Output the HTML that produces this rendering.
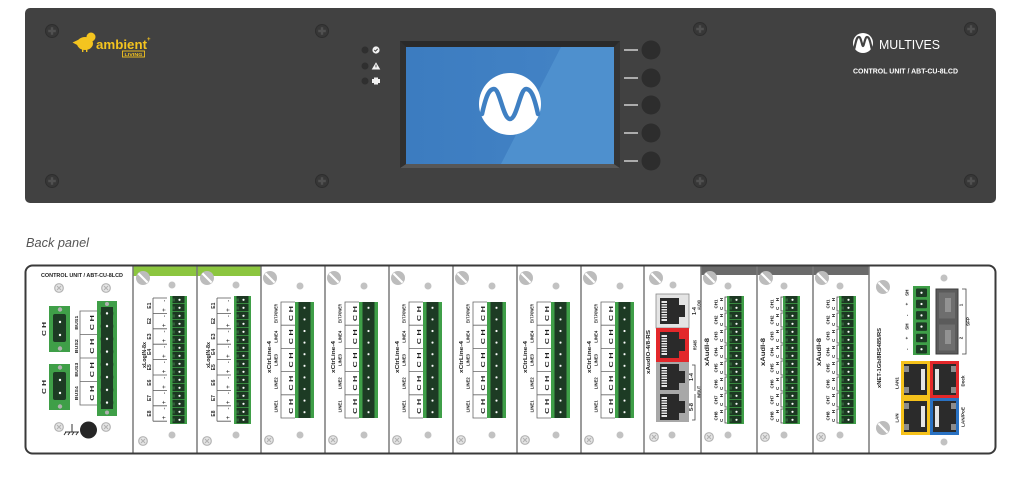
<!DOCTYPE html>
<html><head><meta charset="utf-8"><title>ABT-CU-8LCD</title>
<style>
html,body{margin:0;padding:0;background:#fff;width:1024px;height:482px;overflow:hidden}
svg{display:block}
text{font-family:"Liberation Sans",Arial,sans-serif}
.t{font-weight:bold;fill:#1e1e1e}
</style></head><body>
<svg width="1024" height="482" viewBox="0 0 1024 482" xmlns="http://www.w3.org/2000/svg">
<defs>
<g id="fs"><circle r="6.5" fill="#373737" stroke="#2e2e2e" stroke-width="1"/><path d="M-3.8 0H3.8M0 -3.8V3.8" stroke="#505050" stroke-width="2.4"/></g>
<g id="bs"><circle r="7" fill="#bcbcbc"/><path d="M-4.6 -4.6L4.6 4.6" stroke="#fff" stroke-width="2.2"/></g>
<g id="xc"><circle r="4.3" fill="#e6e6e6" stroke="#b3b3b3" stroke-width="1.2"/><path d="M-2 -2L2 2M2 -2L-2 2" stroke="#b3b3b3" stroke-width="1.2"/></g>
<pattern id="p8" x="2.5" y="0" width="12" height="8" patternUnits="userSpaceOnUse"><rect width="12" height="8" fill="#1c3822"/><rect y="7.2" width="12" height="0.8" fill="#3f9f48"/><rect x="0" y="2.5" width="2.5" height="3" fill="#2e5e36"/><circle cx="7" cy="3.8" r="1.1" fill="#fff"/></pattern>
<g id="tb16"><rect width="17" height="128" fill="#3f9f48"/><rect x="2.5" y="0" width="12" height="128" fill="url(#p8)"/></g>
<pattern id="p12" x="2" y="0" width="15" height="11.6" patternUnits="userSpaceOnUse"><rect x="1.5" width="12" height="11.6" fill="#1d3b24"/><circle cx="7.5" cy="5.8" r="5.8" fill="#1d3b24"/><circle cx="7.5" cy="5.8" r="1.1" fill="#fff"/></pattern>
<g id="tb10"><rect width="19" height="116" fill="#3f9f48"/><rect x="2" y="0" width="15" height="116" fill="url(#p12)"/></g>
<pattern id="p13" x="100" y="307" width="14" height="12.75" patternUnits="userSpaceOnUse"><rect x="1" width="12" height="12.75" fill="#1d3b24"/><circle cx="7" cy="6.4" r="6.3" fill="#1d3b24"/><circle cx="7" cy="6.4" r="1.2" fill="#fff"/></pattern>
<g id="brL" fill="none" stroke="#555" stroke-width="0.8"><path d="M20 298V421.2M20 298H34M20 313.4H34M20 328.8H34M20 344.2H34M20 359.6H34M20 375H34M20 390.4H34M20 405.8H34M20 421.2H34"/></g>
<g id="brC" fill="none" stroke="#666" stroke-width="0.8"><path d="M34 302H20V418H34M20 325.2H34M20 348.4H34M20 371.6H34M20 394.8H34"/></g>
<g id="brA" fill="none" stroke="#444" stroke-width="0.8"><path d="M26 297H24V311H26M26 313H24V327H26M26 329H24V343H26M26 345H24V359H26M26 361H24V375H26M26 377H24V391H26M26 393H24V407H26M26 409H24V423H26"/></g>
<g id="rj"><rect width="19" height="26" fill="#2a2a2a"/><rect x="19" y="7" width="6" height="12" fill="#2a2a2a"/><rect x="1.5" y="3" width="5.5" height="20" fill="#e6e6e6"/><path d="M1.5 5.5h5.5M1.5 8h5.5M1.5 10.5h5.5M1.5 13h5.5M1.5 15.5h5.5M1.5 18h5.5M1.5 20.5h5.5" stroke="#2a2a2a" stroke-width="0.9"/></g>
<linearGradient id="scr" x1="0" y1="0" x2="1" y2="0"><stop offset="0" stop-color="#3c7cc0"/><stop offset="1" stop-color="#4484c6"/></linearGradient>
</defs>

<!-- ============ FRONT PANEL ============ -->
<rect x="25" y="8" width="971" height="195" rx="5" fill="#414141"/>
<use href="#fs" x="52" y="31"/><use href="#fs" x="322" y="31"/><use href="#fs" x="52" y="181"/><use href="#fs" x="322" y="181"/>
<use href="#fs" x="700" y="29"/><use href="#fs" x="971" y="29"/><use href="#fs" x="700" y="181"/><use href="#fs" x="971" y="181"/>

<!-- ambient logo -->
<g fill="#f4c41f">
<ellipse cx="85" cy="43.5" rx="8" ry="6.5"/>
<circle cx="91" cy="37" r="4.5"/>
<path d="M72.5 42.5L80 39L80 46.5Z"/>
<rect x="82" y="48" width="1.4" height="4"/><rect x="86" y="48" width="1.4" height="4"/>
</g>
<text x="96" y="49" font-size="13" font-weight="bold" fill="#f4c41f" textLength="51" lengthAdjust="spacingAndGlyphs">ambient</text>
<text x="147" y="41" font-size="6" font-weight="bold" fill="#f4c41f">+</text>
<rect x="122.5" y="51" width="22" height="6" fill="none" stroke="#f4c41f" stroke-width="0.9"/>
<text x="133.5" y="56" font-size="4.2" font-weight="bold" fill="#f4c41f" text-anchor="middle" textLength="18" lengthAdjust="spacingAndGlyphs">LIVING</text>

<!-- LEDs -->
<circle cx="365" cy="50" r="3.5" fill="#2f2f2f"/><circle cx="365" cy="66" r="3.5" fill="#2f2f2f"/><circle cx="365" cy="81" r="3.5" fill="#2f2f2f"/>
<circle cx="376" cy="50" r="3.6" fill="#f2f2f2"/><path d="M374.3 50l1.2 1.2 2.2-2.4" stroke="#414141" stroke-width="1" fill="none"/>
<path d="M376 62.3L380.3 69.5H371.7Z" fill="#f2f2f2"/><path d="M376 64.6V67.4" stroke="#414141" stroke-width="0.9"/>
<path d="M372 79h2v-1.5h4v1.5h2v4h-2v1.5h-4v-1.5h-2z" fill="#f2f2f2"/>

<!-- screen -->
<rect x="400" y="41" width="220" height="127" fill="#2a2a2a"/>
<polygon points="400,168 620,168 614,164 406,164" fill="#575757"/>
<polygon points="400,41 406,47 406,164 400,168" fill="#303030"/>
<polygon points="620,41 614,47 614,164 620,168" fill="#343434"/>
<rect x="406" y="47" width="208" height="117" fill="url(#scr)"/>
<polygon points="561,47 614,47 614,164 501,164" fill="#4e90ce"/>
<circle cx="510" cy="104" r="31" fill="#fff"/>
<path d="M482 114C486 96 489 89 494 89C500 89 503 119 510 119C517 119 520 89 526 89C531 89 534 96 538 114" fill="none" stroke="#3f80c3" stroke-width="4.5" stroke-linecap="round"/>

<!-- side buttons -->
<path d="M624 50H638M624 78H638M624 105H638M624 133H638M624 161H638" stroke="#d0d0d0" stroke-width="1.5"/>
<circle cx="651" cy="50" r="9.5" fill="#2d2d2d"/><circle cx="651" cy="78" r="9.5" fill="#2d2d2d"/><circle cx="651" cy="105" r="9.5" fill="#2d2d2d"/><circle cx="651" cy="133" r="9.5" fill="#2d2d2d"/><circle cx="651" cy="161" r="9.5" fill="#2d2d2d"/>

<!-- MULTIVES -->
<circle cx="863" cy="43" r="10" fill="#fff"/>
<path d="M854.5 48C856 40 857 37 859 37C861 37 862 46 863 46C864 46 865 37 867 37C869 37 870 40 871.5 48" fill="none" stroke="#414141" stroke-width="2.2" stroke-linecap="round"/>
<text x="879" y="49" font-size="13" fill="#fff" textLength="61" lengthAdjust="spacingAndGlyphs">MULTIVES</text>
<text x="853" y="73.5" font-size="7" font-weight="bold" fill="#fff" textLength="105" lengthAdjust="spacingAndGlyphs">CONTROL UNIT / ABT-CU-8LCD</text>

<!-- ============ BACK PANEL ============ -->
<text x="26" y="247" font-size="13" font-style="italic" fill="#555" textLength="63" lengthAdjust="spacingAndGlyphs">Back panel</text>
<rect x="25.5" y="265.5" width="970" height="188" rx="7" fill="#fff"/>
<rect x="133" y="266" width="128" height="10" fill="#8cc63f"/>
<rect x="701" y="266" width="168" height="9" fill="#6a6a6a"/>

<!-- Control unit module -->
<text class="t" x="82" y="277" font-size="5.5" text-anchor="middle" textLength="82" lengthAdjust="spacingAndGlyphs">CONTROL UNIT / ABT-CU-8LCD</text>
<use href="#xc" x="59" y="288"/><use href="#xc" x="106" y="288"/><use href="#xc" x="59" y="427"/><use href="#xc" x="106" y="427"/>
<rect x="49" y="306" width="21" height="46" fill="#3f9f48"/>
<rect x="53" y="314" width="13" height="28" rx="2" fill="#1d3b24"/>
<circle cx="60" cy="322" r="5.5" fill="#1d3b24"/><circle cx="60" cy="335" r="5.5" fill="#1d3b24"/>
<circle cx="60" cy="322" r="1.2" fill="#fff"/><circle cx="60" cy="335" r="1.2" fill="#fff"/>
<circle cx="60" cy="309.5" r="2.2" fill="#b0b0b0"/><circle cx="60" cy="348.5" r="2.2" fill="#b0b0b0"/>
<rect x="49" y="364" width="21" height="46" fill="#3f9f48"/>
<rect x="53" y="372" width="13" height="28" rx="2" fill="#1d3b24"/>
<circle cx="60" cy="380" r="5.5" fill="#1d3b24"/><circle cx="60" cy="393" r="5.5" fill="#1d3b24"/>
<circle cx="60" cy="380" r="1.2" fill="#fff"/><circle cx="60" cy="393" r="1.2" fill="#fff"/>
<circle cx="60" cy="367.5" r="2.2" fill="#b0b0b0"/><circle cx="60" cy="406.5" r="2.2" fill="#b0b0b0"/>
<text class="t" font-size="5.5" text-anchor="middle" dy="1.8" transform="translate(44,329) rotate(-90)" textLength="14" lengthAdjust="spacingAndGlyphs">C H</text>
<text class="t" font-size="5.5" text-anchor="middle" dy="1.8" transform="translate(44,387) rotate(-90)" textLength="14" lengthAdjust="spacingAndGlyphs">C H</text>
<rect x="97" y="301" width="20" height="115" fill="#3f9f48"/>
<rect x="100" y="307" width="14" height="102" fill="url(#p13)"/>
<circle cx="107" cy="304" r="2" fill="#b0b0b0"/><circle cx="107" cy="412.5" r="2" fill="#b0b0b0"/>
<path d="M97 311H80V405H97M80 334.5H97M80 358H97M80 381.5H97" fill="none" stroke="#666" stroke-width="0.8"/>
<g class="t" font-size="5" text-anchor="middle">
<text dy="1.8" transform="translate(92,322.75) rotate(-90)" textLength="15" lengthAdjust="spacingAndGlyphs">C H</text>
<text dy="1.8" transform="translate(92,346.25) rotate(-90)" textLength="15" lengthAdjust="spacingAndGlyphs">C H</text>
<text dy="1.8" transform="translate(92,369.75) rotate(-90)" textLength="15" lengthAdjust="spacingAndGlyphs">C H</text>
<text dy="1.8" transform="translate(92,393.25) rotate(-90)" textLength="15" lengthAdjust="spacingAndGlyphs">C H</text>
<text dy="1.8" font-size="4.5" transform="translate(76,322.75) rotate(-90)" textLength="14" lengthAdjust="spacingAndGlyphs">BUS1</text>
<text dy="1.8" font-size="4.5" transform="translate(76,346.25) rotate(-90)" textLength="14" lengthAdjust="spacingAndGlyphs">BUS2</text>
<text dy="1.8" font-size="4.5" transform="translate(76,369.75) rotate(-90)" textLength="14" lengthAdjust="spacingAndGlyphs">BUS3</text>
<text dy="1.8" font-size="4.5" transform="translate(76,393.25) rotate(-90)" textLength="14" lengthAdjust="spacingAndGlyphs">BUS4</text>
</g>
<path d="M72 424V432M65 432H79M66 432l-2 3M70 432l-2 3M74 432l-2 3M78 432l-2 3" stroke="#333" stroke-width="1" fill="none"/>
<circle cx="88.5" cy="430" r="8.5" fill="#262626"/>

<!-- xLogIN-8x modules -->
<g>
<use href="#bs" x="143" y="278"/><circle cx="172" cy="285" r="3.5" fill="#c2c2c2"/>
<use href="#xc" x="143" y="441"/><circle cx="172" cy="435" r="3.5" fill="#c2c2c2"/>
<use href="#tb16" x="170" y="296"/><use href="#brL" x="133"/>
<use href="#bs" x="207" y="278"/><circle cx="236" cy="285" r="3.5" fill="#c2c2c2"/>
<use href="#xc" x="207" y="441"/><circle cx="236" cy="435" r="3.5" fill="#c2c2c2"/>
<use href="#tb16" x="234" y="296"/><use href="#brL" x="197"/>
</g>
<g class="t" font-size="5" text-anchor="middle">
<text font-size="5.5" dy="1.8" transform="translate(144,355) rotate(-90)" textLength="26" lengthAdjust="spacingAndGlyphs">xLogIN-8x</text>
<text dy="1.8" transform="translate(149,305.7) rotate(-90)">E1</text>
<text dy="1.8" transform="translate(149,321.1) rotate(-90)">E2</text>
<text dy="1.8" transform="translate(149,336.5) rotate(-90)">E3</text>
<text dy="1.8" transform="translate(149,351.9) rotate(-90)">E4</text>
<text dy="1.8" transform="translate(149,367.3) rotate(-90)">E5</text>
<text dy="1.8" transform="translate(149,382.7) rotate(-90)">E6</text>
<text dy="1.8" transform="translate(149,398.1) rotate(-90)">E7</text>
<text dy="1.8" transform="translate(149,413.5) rotate(-90)">E8</text>
<text font-weight="normal" font-size="6" dy="2" transform="translate(164,305.7) rotate(-90)" textLength="12" lengthAdjust="spacing">+ -</text>
<text font-weight="normal" font-size="6" dy="2" transform="translate(164,321.1) rotate(-90)" textLength="12" lengthAdjust="spacing">+ -</text>
<text font-weight="normal" font-size="6" dy="2" transform="translate(164,336.5) rotate(-90)" textLength="12" lengthAdjust="spacing">+ -</text>
<text font-weight="normal" font-size="6" dy="2" transform="translate(164,351.9) rotate(-90)" textLength="12" lengthAdjust="spacing">+ -</text>
<text font-weight="normal" font-size="6" dy="2" transform="translate(164,367.3) rotate(-90)" textLength="12" lengthAdjust="spacing">+ -</text>
<text font-weight="normal" font-size="6" dy="2" transform="translate(164,382.7) rotate(-90)" textLength="12" lengthAdjust="spacing">+ -</text>
<text font-weight="normal" font-size="6" dy="2" transform="translate(164,398.1) rotate(-90)" textLength="12" lengthAdjust="spacing">+ -</text>
<text font-weight="normal" font-size="6" dy="2" transform="translate(164,413.5) rotate(-90)" textLength="12" lengthAdjust="spacing">+ -</text>
<text font-size="5.5" dy="1.8" transform="translate(208,355) rotate(-90)" textLength="26" lengthAdjust="spacingAndGlyphs">xLogIN-8x</text>
<text dy="1.8" transform="translate(213,305.7) rotate(-90)">E1</text>
<text dy="1.8" transform="translate(213,321.1) rotate(-90)">E2</text>
<text dy="1.8" transform="translate(213,336.5) rotate(-90)">E3</text>
<text dy="1.8" transform="translate(213,351.9) rotate(-90)">E4</text>
<text dy="1.8" transform="translate(213,367.3) rotate(-90)">E5</text>
<text dy="1.8" transform="translate(213,382.7) rotate(-90)">E6</text>
<text dy="1.8" transform="translate(213,398.1) rotate(-90)">E7</text>
<text dy="1.8" transform="translate(213,413.5) rotate(-90)">E8</text>
<text font-weight="normal" font-size="6" dy="2" transform="translate(228,305.7) rotate(-90)" textLength="12" lengthAdjust="spacing">+ -</text>
<text font-weight="normal" font-size="6" dy="2" transform="translate(228,321.1) rotate(-90)" textLength="12" lengthAdjust="spacing">+ -</text>
<text font-weight="normal" font-size="6" dy="2" transform="translate(228,336.5) rotate(-90)" textLength="12" lengthAdjust="spacing">+ -</text>
<text font-weight="normal" font-size="6" dy="2" transform="translate(228,351.9) rotate(-90)" textLength="12" lengthAdjust="spacing">+ -</text>
<text font-weight="normal" font-size="6" dy="2" transform="translate(228,367.3) rotate(-90)" textLength="12" lengthAdjust="spacing">+ -</text>
<text font-weight="normal" font-size="6" dy="2" transform="translate(228,382.7) rotate(-90)" textLength="12" lengthAdjust="spacing">+ -</text>
<text font-weight="normal" font-size="6" dy="2" transform="translate(228,398.1) rotate(-90)" textLength="12" lengthAdjust="spacing">+ -</text>
<text font-weight="normal" font-size="6" dy="2" transform="translate(228,413.5) rotate(-90)" textLength="12" lengthAdjust="spacing">+ -</text>
</g>

<!-- xCtrLine-4 modules -->
<g>
<use href="#bs" x="270" y="278"/><circle cx="300" cy="286" r="3.5" fill="#c2c2c2"/><use href="#xc" x="269" y="440"/><circle cx="300" cy="435" r="3.5" fill="#c2c2c2"/><use href="#tb10" x="295" y="302"/><use href="#brC" x="261"/>
<use href="#bs" x="334" y="278"/><circle cx="364" cy="286" r="3.5" fill="#c2c2c2"/><use href="#xc" x="333" y="440"/><circle cx="364" cy="435" r="3.5" fill="#c2c2c2"/><use href="#tb10" x="359" y="302"/><use href="#brC" x="325"/>
<use href="#bs" x="398" y="278"/><circle cx="428" cy="286" r="3.5" fill="#c2c2c2"/><use href="#xc" x="397" y="440"/><circle cx="428" cy="435" r="3.5" fill="#c2c2c2"/><use href="#tb10" x="423" y="302"/><use href="#brC" x="389"/>
<use href="#bs" x="462" y="278"/><circle cx="492" cy="286" r="3.5" fill="#c2c2c2"/><use href="#xc" x="461" y="440"/><circle cx="492" cy="435" r="3.5" fill="#c2c2c2"/><use href="#tb10" x="487" y="302"/><use href="#brC" x="453"/>
<use href="#bs" x="526" y="278"/><circle cx="556" cy="286" r="3.5" fill="#c2c2c2"/><use href="#xc" x="525" y="440"/><circle cx="556" cy="435" r="3.5" fill="#c2c2c2"/><use href="#tb10" x="551" y="302"/><use href="#brC" x="517"/>
<use href="#bs" x="590" y="278"/><circle cx="620" cy="286" r="3.5" fill="#c2c2c2"/><use href="#xc" x="589" y="440"/><circle cx="620" cy="435" r="3.5" fill="#c2c2c2"/><use href="#tb10" x="615" y="302"/><use href="#brC" x="581"/>
</g>
<g class="t" font-size="4.5" text-anchor="middle">
<text font-size="5.5" dy="1.8" transform="translate(269,357) rotate(-90)" textLength="32" lengthAdjust="spacingAndGlyphs">xCtrLine-4</text>
<text dy="1.6" transform="translate(276,313.6) rotate(-90)" textLength="19" lengthAdjust="spacingAndGlyphs">EXT.POWER</text>
<text dy="1.6" transform="translate(276,336.8) rotate(-90)" textLength="12" lengthAdjust="spacingAndGlyphs">LINE4</text>
<text dy="1.6" transform="translate(276,360) rotate(-90)" textLength="12" lengthAdjust="spacingAndGlyphs">LINE3</text>
<text dy="1.6" transform="translate(276,383.2) rotate(-90)" textLength="12" lengthAdjust="spacingAndGlyphs">LINE2</text>
<text dy="1.6" transform="translate(276,406.4) rotate(-90)" textLength="12" lengthAdjust="spacingAndGlyphs">LINE1</text>
<text font-size="5" dy="1.8" transform="translate(291,313.6) rotate(-90)" textLength="15" lengthAdjust="spacingAndGlyphs">C H</text>
<text font-size="5" dy="1.8" transform="translate(291,336.8) rotate(-90)" textLength="15" lengthAdjust="spacingAndGlyphs">C H</text>
<text font-size="5" dy="1.8" transform="translate(291,360) rotate(-90)" textLength="15" lengthAdjust="spacingAndGlyphs">C H</text>
<text font-size="5" dy="1.8" transform="translate(291,383.2) rotate(-90)" textLength="15" lengthAdjust="spacingAndGlyphs">C H</text>
<text font-size="5" dy="1.8" transform="translate(291,406.4) rotate(-90)" textLength="15" lengthAdjust="spacingAndGlyphs">C H</text>

<text font-size="5.5" dy="1.8" transform="translate(333,357) rotate(-90)" textLength="32" lengthAdjust="spacingAndGlyphs">xCtrLine-4</text>
<text dy="1.6" transform="translate(340,313.6) rotate(-90)" textLength="19" lengthAdjust="spacingAndGlyphs">EXT.POWER</text>
<text dy="1.6" transform="translate(340,336.8) rotate(-90)" textLength="12" lengthAdjust="spacingAndGlyphs">LINE4</text>
<text dy="1.6" transform="translate(340,360) rotate(-90)" textLength="12" lengthAdjust="spacingAndGlyphs">LINE3</text>
<text dy="1.6" transform="translate(340,383.2) rotate(-90)" textLength="12" lengthAdjust="spacingAndGlyphs">LINE2</text>
<text dy="1.6" transform="translate(340,406.4) rotate(-90)" textLength="12" lengthAdjust="spacingAndGlyphs">LINE1</text>
<text font-size="5" dy="1.8" transform="translate(355,313.6) rotate(-90)" textLength="15" lengthAdjust="spacingAndGlyphs">C H</text>
<text font-size="5" dy="1.8" transform="translate(355,336.8) rotate(-90)" textLength="15" lengthAdjust="spacingAndGlyphs">C H</text>
<text font-size="5" dy="1.8" transform="translate(355,360) rotate(-90)" textLength="15" lengthAdjust="spacingAndGlyphs">C H</text>
<text font-size="5" dy="1.8" transform="translate(355,383.2) rotate(-90)" textLength="15" lengthAdjust="spacingAndGlyphs">C H</text>
<text font-size="5" dy="1.8" transform="translate(355,406.4) rotate(-90)" textLength="15" lengthAdjust="spacingAndGlyphs">C H</text>

<text font-size="5.5" dy="1.8" transform="translate(397,357) rotate(-90)" textLength="32" lengthAdjust="spacingAndGlyphs">xCtrLine-4</text>
<text dy="1.6" transform="translate(404,313.6) rotate(-90)" textLength="19" lengthAdjust="spacingAndGlyphs">EXT.POWER</text>
<text dy="1.6" transform="translate(404,336.8) rotate(-90)" textLength="12" lengthAdjust="spacingAndGlyphs">LINE4</text>
<text dy="1.6" transform="translate(404,360) rotate(-90)" textLength="12" lengthAdjust="spacingAndGlyphs">LINE3</text>
<text dy="1.6" transform="translate(404,383.2) rotate(-90)" textLength="12" lengthAdjust="spacingAndGlyphs">LINE2</text>
<text dy="1.6" transform="translate(404,406.4) rotate(-90)" textLength="12" lengthAdjust="spacingAndGlyphs">LINE1</text>
<text font-size="5" dy="1.8" transform="translate(419,313.6) rotate(-90)" textLength="15" lengthAdjust="spacingAndGlyphs">C H</text>
<text font-size="5" dy="1.8" transform="translate(419,336.8) rotate(-90)" textLength="15" lengthAdjust="spacingAndGlyphs">C H</text>
<text font-size="5" dy="1.8" transform="translate(419,360) rotate(-90)" textLength="15" lengthAdjust="spacingAndGlyphs">C H</text>
<text font-size="5" dy="1.8" transform="translate(419,383.2) rotate(-90)" textLength="15" lengthAdjust="spacingAndGlyphs">C H</text>
<text font-size="5" dy="1.8" transform="translate(419,406.4) rotate(-90)" textLength="15" lengthAdjust="spacingAndGlyphs">C H</text>

<text font-size="5.5" dy="1.8" transform="translate(461,357) rotate(-90)" textLength="32" lengthAdjust="spacingAndGlyphs">xCtrLine-4</text>
<text dy="1.6" transform="translate(468,313.6) rotate(-90)" textLength="19" lengthAdjust="spacingAndGlyphs">EXT.POWER</text>
<text dy="1.6" transform="translate(468,336.8) rotate(-90)" textLength="12" lengthAdjust="spacingAndGlyphs">LINE4</text>
<text dy="1.6" transform="translate(468,360) rotate(-90)" textLength="12" lengthAdjust="spacingAndGlyphs">LINE3</text>
<text dy="1.6" transform="translate(468,383.2) rotate(-90)" textLength="12" lengthAdjust="spacingAndGlyphs">LINE2</text>
<text dy="1.6" transform="translate(468,406.4) rotate(-90)" textLength="12" lengthAdjust="spacingAndGlyphs">LINE1</text>
<text font-size="5" dy="1.8" transform="translate(483,313.6) rotate(-90)" textLength="15" lengthAdjust="spacingAndGlyphs">C H</text>
<text font-size="5" dy="1.8" transform="translate(483,336.8) rotate(-90)" textLength="15" lengthAdjust="spacingAndGlyphs">C H</text>
<text font-size="5" dy="1.8" transform="translate(483,360) rotate(-90)" textLength="15" lengthAdjust="spacingAndGlyphs">C H</text>
<text font-size="5" dy="1.8" transform="translate(483,383.2) rotate(-90)" textLength="15" lengthAdjust="spacingAndGlyphs">C H</text>
<text font-size="5" dy="1.8" transform="translate(483,406.4) rotate(-90)" textLength="15" lengthAdjust="spacingAndGlyphs">C H</text>

<text font-size="5.5" dy="1.8" transform="translate(525,357) rotate(-90)" textLength="32" lengthAdjust="spacingAndGlyphs">xCtrLine-4</text>
<text dy="1.6" transform="translate(532,313.6) rotate(-90)" textLength="19" lengthAdjust="spacingAndGlyphs">EXT.POWER</text>
<text dy="1.6" transform="translate(532,336.8) rotate(-90)" textLength="12" lengthAdjust="spacingAndGlyphs">LINE4</text>
<text dy="1.6" transform="translate(532,360) rotate(-90)" textLength="12" lengthAdjust="spacingAndGlyphs">LINE3</text>
<text dy="1.6" transform="translate(532,383.2) rotate(-90)" textLength="12" lengthAdjust="spacingAndGlyphs">LINE2</text>
<text dy="1.6" transform="translate(532,406.4) rotate(-90)" textLength="12" lengthAdjust="spacingAndGlyphs">LINE1</text>
<text font-size="5" dy="1.8" transform="translate(547,313.6) rotate(-90)" textLength="15" lengthAdjust="spacingAndGlyphs">C H</text>
<text font-size="5" dy="1.8" transform="translate(547,336.8) rotate(-90)" textLength="15" lengthAdjust="spacingAndGlyphs">C H</text>
<text font-size="5" dy="1.8" transform="translate(547,360) rotate(-90)" textLength="15" lengthAdjust="spacingAndGlyphs">C H</text>
<text font-size="5" dy="1.8" transform="translate(547,383.2) rotate(-90)" textLength="15" lengthAdjust="spacingAndGlyphs">C H</text>
<text font-size="5" dy="1.8" transform="translate(547,406.4) rotate(-90)" textLength="15" lengthAdjust="spacingAndGlyphs">C H</text>

<text font-size="5.5" dy="1.8" transform="translate(589,357) rotate(-90)" textLength="32" lengthAdjust="spacingAndGlyphs">xCtrLine-4</text>
<text dy="1.6" transform="translate(596,313.6) rotate(-90)" textLength="19" lengthAdjust="spacingAndGlyphs">EXT.POWER</text>
<text dy="1.6" transform="translate(596,336.8) rotate(-90)" textLength="12" lengthAdjust="spacingAndGlyphs">LINE4</text>
<text dy="1.6" transform="translate(596,360) rotate(-90)" textLength="12" lengthAdjust="spacingAndGlyphs">LINE3</text>
<text dy="1.6" transform="translate(596,383.2) rotate(-90)" textLength="12" lengthAdjust="spacingAndGlyphs">LINE2</text>
<text dy="1.6" transform="translate(596,406.4) rotate(-90)" textLength="12" lengthAdjust="spacingAndGlyphs">LINE1</text>
<text font-size="5" dy="1.8" transform="translate(611,313.6) rotate(-90)" textLength="15" lengthAdjust="spacingAndGlyphs">C H</text>
<text font-size="5" dy="1.8" transform="translate(611,336.8) rotate(-90)" textLength="15" lengthAdjust="spacingAndGlyphs">C H</text>
<text font-size="5" dy="1.8" transform="translate(611,360) rotate(-90)" textLength="15" lengthAdjust="spacingAndGlyphs">C H</text>
<text font-size="5" dy="1.8" transform="translate(611,383.2) rotate(-90)" textLength="15" lengthAdjust="spacingAndGlyphs">C H</text>
<text font-size="5" dy="1.8" transform="translate(611,406.4) rotate(-90)" textLength="15" lengthAdjust="spacingAndGlyphs">C H</text>
</g>

<!-- xAudIO-4/8-RS -->
<use href="#bs" x="656" y="278"/><circle cx="673" cy="285" r="3.5" fill="#c2c2c2"/>
<use href="#xc" x="654" y="437"/><circle cx="672" cy="435" r="3.5" fill="#c2c2c2"/>
<rect x="656" y="294" width="33" height="34" fill="#e4e4e4" stroke="#8a8a8a" stroke-width="0.8"/>
<rect x="656" y="328" width="33" height="34" fill="#e3282b"/>
<rect x="656" y="362" width="33" height="60" fill="#a8a8a8"/>
<use href="#rj" x="660" y="298"/><use href="#rj" x="660" y="332"/><use href="#rj" x="660" y="364"/><use href="#rj" x="660" y="394"/>
<path d="M692 365H695V391M695 394V420H692" fill="none" stroke="#444" stroke-width="0.8"/>
<g class="t" font-size="4.5" text-anchor="middle">
<text font-size="5.5" dy="1.8" transform="translate(648,352) rotate(-90)" textLength="44" lengthAdjust="spacingAndGlyphs">xAudIO-4/8-RS</text>
<text font-size="5" dy="1.8" transform="translate(694,311) rotate(-90)" textLength="8" lengthAdjust="spacingAndGlyphs">1-4</text>
<text dy="1.6" transform="translate(699,305) rotate(-90)" textLength="10" lengthAdjust="spacingAndGlyphs">AUDIO</text>
<text dy="1.6" transform="translate(695,345) rotate(-90)" textLength="10" lengthAdjust="spacingAndGlyphs">RS485</text>
<text font-size="5" dy="1.8" transform="translate(691,377) rotate(-90)" textLength="8" lengthAdjust="spacingAndGlyphs">1-4</text>
<text font-size="5" dy="1.8" transform="translate(691,407) rotate(-90)" textLength="8" lengthAdjust="spacingAndGlyphs">5-8</text>
<text dy="1.6" transform="translate(699,392) rotate(-90)" textLength="12" lengthAdjust="spacingAndGlyphs">IN/OUT</text>
</g>

<!-- xAudI-8 modules -->
<g>
<use href="#bs" x="710" y="278"/><circle cx="728" cy="286" r="3.5" fill="#c2c2c2"/><use href="#xc" x="709" y="437"/><circle cx="728" cy="435" r="3.5" fill="#c2c2c2"/><use href="#tb16" x="727" y="296"/><use href="#brA" x="701"/>
<use href="#bs" x="766" y="278"/><circle cx="784" cy="286" r="3.5" fill="#c2c2c2"/><use href="#xc" x="765" y="437"/><circle cx="784" cy="435" r="3.5" fill="#c2c2c2"/><use href="#tb16" x="783" y="296"/><use href="#brA" x="757"/>
<use href="#bs" x="822" y="278"/><circle cx="840" cy="286" r="3.5" fill="#c2c2c2"/><use href="#xc" x="821" y="437"/><circle cx="840" cy="435" r="3.5" fill="#c2c2c2"/><use href="#tb16" x="839" y="296"/><use href="#brA" x="813"/>
</g>
<g class="t" font-size="4.5" text-anchor="middle">
<text font-size="6" dy="2" transform="translate(707,352) rotate(-90)" textLength="28" lengthAdjust="spacingAndGlyphs">xAudI-8</text>
<text dy="1.6" transform="translate(716,304) rotate(-90)">CH1</text><text dy="1.6" transform="translate(716,320) rotate(-90)">CH2</text><text dy="1.6" transform="translate(716,336) rotate(-90)">CH3</text><text dy="1.6" transform="translate(716,352) rotate(-90)">CH4</text><text dy="1.6" transform="translate(716,368) rotate(-90)">CH5</text><text dy="1.6" transform="translate(716,384) rotate(-90)">CH6</text><text dy="1.6" transform="translate(716,400) rotate(-90)">CH7</text><text dy="1.6" transform="translate(716,416) rotate(-90)">CH8</text>
<text dy="1.6" transform="translate(721.5,304) rotate(-90)" textLength="12" lengthAdjust="spacing">C H</text><text dy="1.6" transform="translate(721.5,320) rotate(-90)" textLength="12" lengthAdjust="spacing">C H</text><text dy="1.6" transform="translate(721.5,336) rotate(-90)" textLength="12" lengthAdjust="spacing">C H</text><text dy="1.6" transform="translate(721.5,352) rotate(-90)" textLength="12" lengthAdjust="spacing">C H</text><text dy="1.6" transform="translate(721.5,368) rotate(-90)" textLength="12" lengthAdjust="spacing">C H</text><text dy="1.6" transform="translate(721.5,384) rotate(-90)" textLength="12" lengthAdjust="spacing">C H</text><text dy="1.6" transform="translate(721.5,400) rotate(-90)" textLength="12" lengthAdjust="spacing">C H</text><text dy="1.6" transform="translate(721.5,416) rotate(-90)" textLength="12" lengthAdjust="spacing">C H</text>

<text font-size="6" dy="2" transform="translate(763,352) rotate(-90)" textLength="28" lengthAdjust="spacingAndGlyphs">xAudI-8</text>
<text dy="1.6" transform="translate(772,304) rotate(-90)">CH1</text><text dy="1.6" transform="translate(772,320) rotate(-90)">CH2</text><text dy="1.6" transform="translate(772,336) rotate(-90)">CH3</text><text dy="1.6" transform="translate(772,352) rotate(-90)">CH4</text><text dy="1.6" transform="translate(772,368) rotate(-90)">CH5</text><text dy="1.6" transform="translate(772,384) rotate(-90)">CH6</text><text dy="1.6" transform="translate(772,400) rotate(-90)">CH7</text><text dy="1.6" transform="translate(772,416) rotate(-90)">CH8</text>
<text dy="1.6" transform="translate(777.5,304) rotate(-90)" textLength="12" lengthAdjust="spacing">C H</text><text dy="1.6" transform="translate(777.5,320) rotate(-90)" textLength="12" lengthAdjust="spacing">C H</text><text dy="1.6" transform="translate(777.5,336) rotate(-90)" textLength="12" lengthAdjust="spacing">C H</text><text dy="1.6" transform="translate(777.5,352) rotate(-90)" textLength="12" lengthAdjust="spacing">C H</text><text dy="1.6" transform="translate(777.5,368) rotate(-90)" textLength="12" lengthAdjust="spacing">C H</text><text dy="1.6" transform="translate(777.5,384) rotate(-90)" textLength="12" lengthAdjust="spacing">C H</text><text dy="1.6" transform="translate(777.5,400) rotate(-90)" textLength="12" lengthAdjust="spacing">C H</text><text dy="1.6" transform="translate(777.5,416) rotate(-90)" textLength="12" lengthAdjust="spacing">C H</text>

<text font-size="6" dy="2" transform="translate(819,352) rotate(-90)" textLength="28" lengthAdjust="spacingAndGlyphs">xAudI-8</text>
<text dy="1.6" transform="translate(828,304) rotate(-90)">CH1</text><text dy="1.6" transform="translate(828,320) rotate(-90)">CH2</text><text dy="1.6" transform="translate(828,336) rotate(-90)">CH3</text><text dy="1.6" transform="translate(828,352) rotate(-90)">CH4</text><text dy="1.6" transform="translate(828,368) rotate(-90)">CH5</text><text dy="1.6" transform="translate(828,384) rotate(-90)">CH6</text><text dy="1.6" transform="translate(828,400) rotate(-90)">CH7</text><text dy="1.6" transform="translate(828,416) rotate(-90)">CH8</text>
<text dy="1.6" transform="translate(833.5,304) rotate(-90)" textLength="12" lengthAdjust="spacing">C H</text><text dy="1.6" transform="translate(833.5,320) rotate(-90)" textLength="12" lengthAdjust="spacing">C H</text><text dy="1.6" transform="translate(833.5,336) rotate(-90)" textLength="12" lengthAdjust="spacing">C H</text><text dy="1.6" transform="translate(833.5,352) rotate(-90)" textLength="12" lengthAdjust="spacing">C H</text><text dy="1.6" transform="translate(833.5,368) rotate(-90)" textLength="12" lengthAdjust="spacing">C H</text><text dy="1.6" transform="translate(833.5,384) rotate(-90)" textLength="12" lengthAdjust="spacing">C H</text><text dy="1.6" transform="translate(833.5,400) rotate(-90)" textLength="12" lengthAdjust="spacing">C H</text><text dy="1.6" transform="translate(833.5,416) rotate(-90)" textLength="12" lengthAdjust="spacing">C H</text>
</g>

<!-- xNET module -->
<use href="#bs" x="883" y="287"/><use href="#bs" x="883" y="428"/>
<circle cx="944" cy="278" r="3.5" fill="#c2c2c2"/><circle cx="944" cy="442" r="3.5" fill="#c2c2c2"/>
<rect x="913" y="286" width="17" height="69" fill="#3f9f48"/>
<g fill="#1d3b24"><rect x="916" y="288.5" width="11" height="8.5" rx="1"/><rect x="916" y="299.8" width="11" height="8.5" rx="1"/><rect x="916" y="311.1" width="11" height="8.5" rx="1"/><rect x="916" y="322.4" width="11" height="8.5" rx="1"/><rect x="916" y="333.7" width="11" height="8.5" rx="1"/><rect x="916" y="345" width="11" height="8.5" rx="1"/></g>
<g fill="#fff"><circle cx="921.5" cy="292.75" r="1.1"/><circle cx="921.5" cy="304" r="1.1"/><circle cx="921.5" cy="315.4" r="1.1"/><circle cx="921.5" cy="326.6" r="1.1"/><circle cx="921.5" cy="338" r="1.1"/><circle cx="921.5" cy="349.25" r="1.1"/></g>
<rect x="936" y="289" width="22" height="65" fill="#5b5b5b" stroke="#3d3d3d" stroke-width="1"/>
<rect x="939" y="292.5" width="16" height="26" fill="#6e6e6e"/><rect x="939" y="324.5" width="16" height="26" fill="#6e6e6e"/>
<path d="M946 298v14M948 298v14M950 298v14M946 330v14M948 330v14M950 330v14" stroke="#c8c8c8" stroke-width="0.8"/>
<path d="M962 289H966V354H962" fill="none" stroke="#444" stroke-width="0.8"/>
<rect x="901" y="361" width="29" height="74" fill="#f6c21b"/>
<rect x="930" y="361" width="29" height="37" fill="#e3282b"/>
<rect x="930" y="398" width="29" height="37" fill="#2a72c3"/>
<g fill="#2b2b2b"><rect x="904" y="364" width="23" height="31"/><rect x="904" y="401" width="23" height="31"/><rect x="933" y="364" width="23" height="31"/><rect x="933" y="401" width="23" height="31"/></g>
<g fill="#8c8c8c"><rect x="904" y="366" width="5" height="6"/><rect x="904" y="387" width="5" height="6"/><rect x="904" y="403" width="5" height="6"/><rect x="904" y="424" width="5" height="6"/>
<rect x="951" y="366" width="5" height="6"/><rect x="951" y="387" width="5" height="6"/><rect x="951" y="403" width="5" height="6"/><rect x="951" y="424" width="5" height="6"/></g>
<g fill="#e6e6e6"><rect x="921" y="369" width="4" height="21"/><rect x="921" y="406" width="4" height="21"/><rect x="935" y="369" width="4" height="21"/><rect x="935" y="406" width="4" height="21"/></g>
<g class="t" font-size="4.5" text-anchor="middle">
<text font-size="5.5" dy="1.8" transform="translate(879,358) rotate(-90)" textLength="60" lengthAdjust="spacingAndGlyphs">xNET-1Gb/8RS485/RS</text>
<text dy="1.6" transform="translate(907,292.75) rotate(-90)">SH</text><text dy="1.6" transform="translate(907,304) rotate(-90)">+</text><text dy="1.6" transform="translate(907,315.4) rotate(-90)">-</text><text dy="1.6" transform="translate(907,326.6) rotate(-90)">SH</text><text dy="1.6" transform="translate(907,338) rotate(-90)">+</text><text dy="1.6" transform="translate(907,349.25) rotate(-90)">-</text>
<text dy="1.6" transform="translate(961,305) rotate(-90)">1</text><text dy="1.6" transform="translate(961,338) rotate(-90)">2</text>
<text dy="1.6" transform="translate(968,321.5) rotate(-90)" textLength="9" lengthAdjust="spacingAndGlyphs">SFP</text>
<text dy="1.6" transform="translate(897,383) rotate(-90)" textLength="12" lengthAdjust="spacingAndGlyphs">LAN1</text>
<text dy="1.6" transform="translate(897,418) rotate(-90)" textLength="9" lengthAdjust="spacingAndGlyphs">LAN</text>
<text dy="1.6" transform="translate(963,381) rotate(-90)" textLength="11" lengthAdjust="spacingAndGlyphs">Dock</text>
<text dy="1.6" transform="translate(963,417) rotate(-90)" textLength="20" lengthAdjust="spacingAndGlyphs">LAN/PoE</text>
</g>

<!-- dividers -->
<path d="M133 266V453M197 266V453M261 266V453M325 266V453M389 266V453M453 266V453M517 266V453M581 266V453M644 266V453M701 266V453M757 266V453M813 266V453M869 266V453" stroke="#7a7a7a" stroke-width="1.5"/>
<rect x="25.5" y="265.5" width="970" height="188" rx="7" fill="none" stroke="#3a3a3a" stroke-width="2"/>
</svg>
</body></html>
